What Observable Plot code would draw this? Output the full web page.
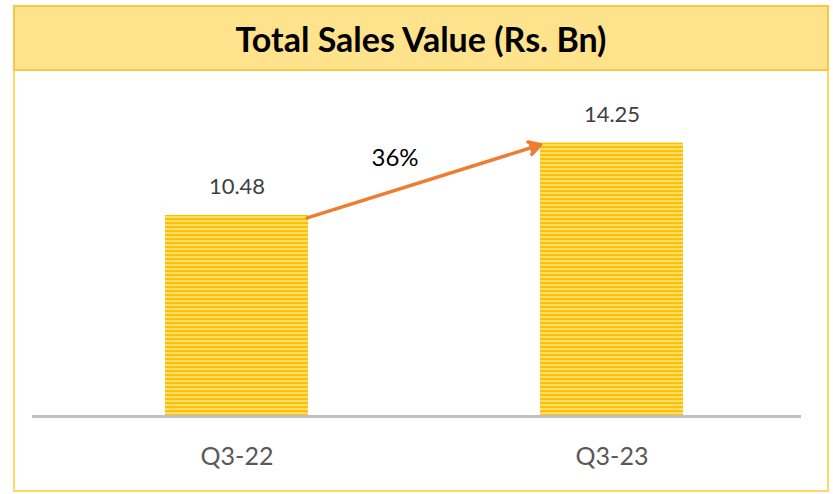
<!DOCTYPE html>
<html>
<head>
<meta charset="utf-8">
<script src="https://cdn.jsdelivr.net/npm/d3@7"></script>
<script src="https://cdn.jsdelivr.net/npm/@observablehq/plot@0.6"></script>
<style>
  html, body { margin: 0; padding: 0; background: #fff; }
  #wrap { position: relative; width: 833px; height: 494px; font-family: Lato, "Open Sans", sans-serif; }
  #box { position: absolute; left: 13px; top: 5px; width: 812px; height: 483px; border: 2px solid #FFD966; box-sizing: content-box; }
  #title { position: absolute; left: 13px; top: 5px; width: 812px; height: 62px; background: #FFE28C; border: 2px solid #F8C744; box-sizing: content-box;
           display: flex; align-items: center; justify-content: center; font-weight: 700; font-size: 34px; color: #000; }
  #chart { position: absolute; left: 0; top: 70px; }
</style>
</head>
<body>
<div id="wrap">
  <div id="box"></div>
  <div id="title">Total Sales Value (Rs. Bn)</div>
  <div id="chart"></div>
</div>
<script>
const categories = ["Q3-22", "Q3-23"];
const values = [10.48, 14.25];
const valueLabels = ["10.48", "14.25"];
const growthLabel = ["36%"];
const growthValue = [13.44];
const arrowFrom = ["Q3-22"];
const arrowTo = ["Q3-23"];
const arrowStart = [9.2];
const arrowEnd = [15.33];

const data = categories.map((c, i) => ({cat: c, value: values[i], label: valueLabels[i]}));
const arrows = arrowFrom.map((f, i) => ({from: f, to: arrowTo[i], y1: arrowStart[i], y2: arrowEnd[i]}));
const growth = growthLabel.map((t, i) => ({cat: arrowFrom[i], text: t, y: growthValue[i]}));

const plot = Plot.plot({
  width: 833,
  height: 421,
  marginLeft: 32,
  marginRight: 32,
  marginTop: 39,
  marginBottom: 75,
  style: {fontFamily: "Lato, 'Open Sans', sans-serif", background: "transparent"},
  x: {domain: categories, range: [165, 683], paddingInner: 0.6187, paddingOuter: 0, label: null},
  y: {domain: [0, 16], axis: null},
  marks: [
    Plot.barY(data, {x: "cat", y: "value", fill: "url(#stripes)"}),
    Plot.ruleY([0], {stroke: "#C0C0C0", strokeWidth: 3}),
    Plot.text(data, {x: "cat", y: "value", text: "label", dy: -28, lineAnchor: "middle", fontSize: 22, fill: "#404040"}),
    Plot.arrow(arrows, {x1: "from", x2: "to", y1: "y1", y2: "y2", stroke: "#ED7D31", fill: "#ED7D31", strokeWidth: 3.5,
      strokeLinejoin: "miter", insetStart: 73.6, insetEnd: 74.9, headLength: 5.5, headAngle: 60, bend: 0}),
    Plot.text(growth, {x: "cat", y: "y", text: "text", dx: 158, lineAnchor: "middle", fontSize: 24, fill: "#000"}),
    Plot.axisX({tickSize: 0, tickPadding: 31, fontSize: 25, color: "#595959", label: null})
  ]
});

const ns = "http://www.w3.org/2000/svg";
const defs = document.createElementNS(ns, "defs");
defs.innerHTML = `<pattern id="stripes" patternUnits="userSpaceOnUse" width="8" height="4">
  <rect width="8" height="4" fill="#FFE17A"/>
  <rect width="8" height="2.2" fill="#FFC000"/>
</pattern>`;
plot.insertBefore(defs, plot.firstChild);
document.getElementById("chart").appendChild(plot);
</script>
</body>
</html>
